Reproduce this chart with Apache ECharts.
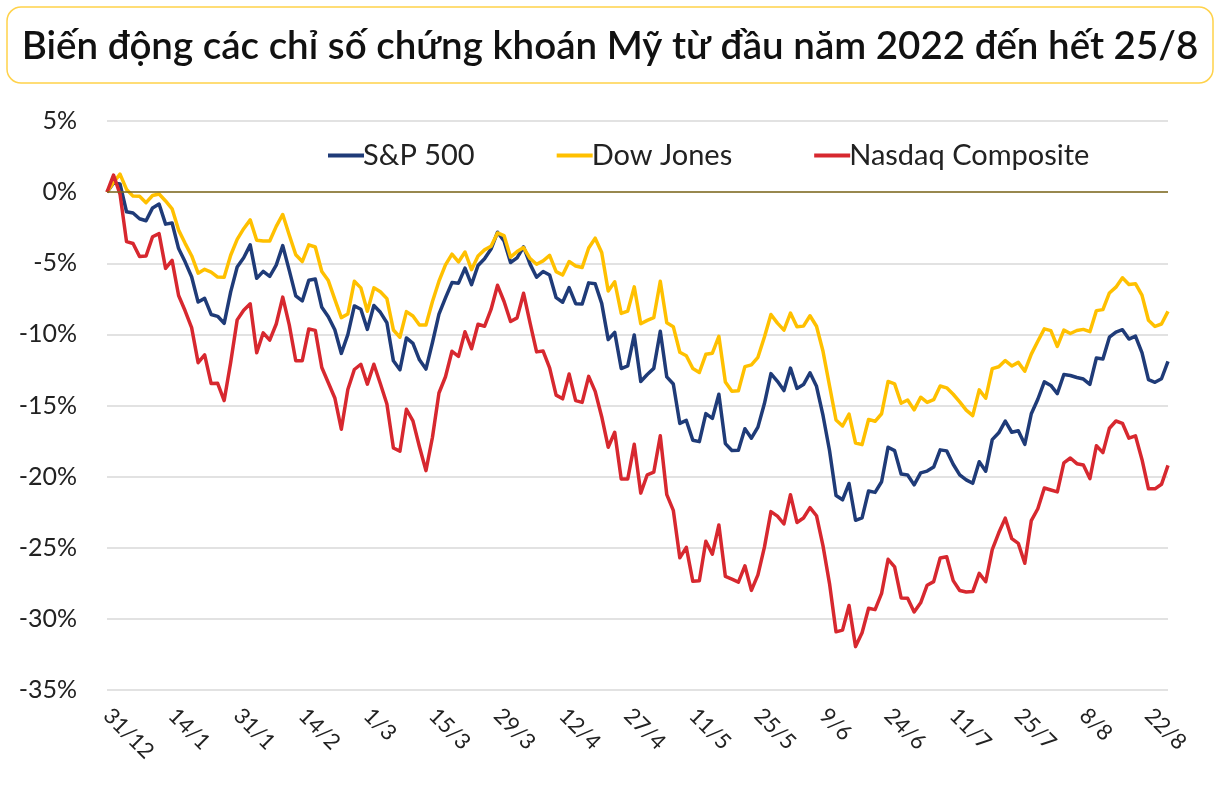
<!DOCTYPE html>
<html>
<head>
<meta charset="utf-8">
<script src="https://cdn.jsdelivr.net/npm/echarts@6/dist/echarts.min.js"></script>
<style>
html,body{margin:0;padding:0;background:#fff;}
#chart{width:1220px;height:789px;}
</style>
</head>
<body>
<div id="chart"></div>
<script>
var titleText = 'Biến động các chỉ số chứng khoán Mỹ từ đầu năm 2022 đến hết 25/8';
var seriesNames = ['S&P 500', 'Dow Jones', 'Nasdaq Composite'];

var categories = [
  '31/12',
  '3/1','4/1','5/1','6/1','7/1','10/1','11/1','12/1','13/1','14/1','18/1','19/1','20/1','21/1','24/1','25/1','26/1','27/1','28/1','31/1',
  '1/2','2/2','3/2','4/2','7/2','8/2','9/2','10/2','11/2','14/2','15/2','16/2','17/2','18/2','22/2','23/2','24/2','25/2','28/2',
  '1/3','2/3','3/3','4/3','7/3','8/3','9/3','10/3','11/3','14/3','15/3','16/3','17/3','18/3','21/3','22/3','23/3','24/3','25/3','28/3','29/3','30/3','31/3',
  '1/4','4/4','5/4','6/4','7/4','8/4','11/4','12/4','13/4','14/4','18/4','19/4','20/4','21/4','22/4','25/4','26/4','27/4','28/4','29/4',
  '2/5','3/5','4/5','5/5','6/5','9/5','10/5','11/5','12/5','13/5','16/5','17/5','18/5','19/5','20/5','23/5','24/5','25/5','26/5','27/5','31/5',
  '1/6','2/6','3/6','6/6','7/6','8/6','9/6','10/6','13/6','14/6','15/6','16/6','17/6','21/6','22/6','23/6','24/6','27/6','28/6','29/6','30/6',
  '1/7','5/7','6/7','7/7','8/7','11/7','12/7','13/7','14/7','15/7','18/7','19/7','20/7','21/7','22/7','25/7','26/7','27/7','28/7','29/7',
  '1/8','2/8','3/8','4/8','5/8','8/8','9/8','10/8','11/8','12/8','15/8','16/8','17/8','18/8','19/8','22/8','23/8','24/8','25/8'
];

var sp500 = [
  0, 0.64, 0.57, -1.38, -1.47, -1.87, -2.01, -1.11, -0.84, -2.25,
  -2.17, -3.97, -4.90, -5.95, -7.73, -7.47, -8.60, -8.73, -9.22, -7.01,
  -5.26, -4.61, -3.71, -6.06, -5.57, -5.92, -5.13, -3.76, -5.50, -7.29,
  -7.65, -6.19, -6.11, -8.10, -8.76, -9.68, -11.34, -10.02, -8.00, -8.23,
  -9.65, -7.97, -8.45, -9.18, -11.86, -12.49, -10.25, -10.63, -11.79, -12.44,
  -10.57, -8.57, -7.44, -6.36, -6.40, -5.34, -6.50, -5.16, -4.68, -4.00,
  -2.82, -3.44, -4.95, -4.62, -3.85, -5.06, -5.98, -5.58, -5.83, -7.42,
  -7.74, -6.71, -7.84, -7.86, -6.38, -6.44, -7.82, -10.37, -9.86, -12.40,
  -12.22, -10.04, -13.31, -12.82, -12.39, -9.78, -12.99, -13.49, -16.26, -16.05,
  -17.44, -17.54, -15.57, -15.91, -14.21, -17.68, -18.16, -18.14, -16.63, -17.30,
  -16.52, -14.86, -12.76, -13.30, -13.95, -12.37, -13.80, -13.53, -12.70, -13.65,
  -15.70, -18.16, -21.33, -21.63, -20.48, -23.07, -22.90, -21.01, -21.11, -20.36,
  -17.93, -18.17, -19.82, -19.88, -20.58, -19.74, -19.61, -19.33, -18.12, -18.19,
  -19.13, -19.88, -20.23, -20.47, -18.95, -19.62, -17.40, -16.92, -16.10, -16.88,
  -16.77, -17.73, -15.58, -14.56, -13.34, -13.59, -14.16, -12.82, -12.89, -13.03,
  -13.14, -13.51, -11.66, -11.73, -10.20, -9.84, -9.67, -10.33, -10.12, -11.28,
  -13.18, -13.37, -13.12, -11.90
];

var dowJones = [
  0, 0.68, 1.27, 0.19, -0.28, -0.29, -0.74, -0.24, -0.13, -0.62,
  -1.17, -2.67, -3.60, -4.47, -5.70, -5.43, -5.62, -5.97, -5.99, -4.44,
  -3.32, -2.57, -1.95, -3.38, -3.44, -3.43, -2.41, -1.57, -3.02, -4.40,
  -4.88, -3.71, -3.86, -5.58, -6.22, -7.54, -8.82, -8.57, -6.27, -6.73,
  -8.38, -6.73, -7.00, -7.49, -9.69, -10.20, -8.40, -8.71, -9.34, -9.34,
  -7.69, -6.26, -5.11, -4.36, -4.91, -4.21, -5.45, -4.49, -4.06, -3.80,
  -2.87, -3.05, -4.57, -4.18, -3.90, -4.67, -5.07, -4.83, -4.45, -5.59,
  -5.83, -4.88, -5.19, -5.30, -3.93, -3.24, -4.25, -6.95, -6.30, -8.53,
  -8.36, -6.66, -9.25, -9.02, -8.83, -6.27, -9.19, -9.46, -11.26, -11.50,
  -12.40, -12.68, -11.40, -11.32, -10.14, -13.34, -13.99, -13.97, -12.27, -12.14,
  -11.61, -10.19, -8.60, -9.21, -9.70, -8.50, -9.46, -9.42, -8.69, -9.43,
  -11.19, -13.61, -16.02, -16.44, -15.60, -17.64, -17.75, -15.98, -16.11, -15.58,
  -13.31, -13.48, -14.84, -14.61, -15.31, -14.42, -14.78, -14.59, -13.63, -13.76,
  -14.21, -14.74, -15.32, -15.71, -13.90, -14.49, -12.41, -12.28, -11.84, -12.22,
  -11.97, -12.59, -11.39, -10.48, -9.61, -9.74, -10.85, -9.70, -9.94, -9.73,
  -9.65, -9.81, -8.33, -8.26, -7.09, -6.68, -6.02, -6.49, -6.44, -7.24,
  -9.01, -9.44, -9.27, -8.38
];

var nasdaq = [
  0, 1.20, -0.14, -3.48, -3.61, -4.53, -4.49, -3.14, -2.92, -5.36,
  -4.80, -7.27, -8.34, -9.53, -11.99, -11.44, -13.46, -13.44, -14.65, -11.98,
  -8.98, -8.30, -7.85, -11.29, -9.89, -10.41, -9.27, -7.38, -9.33, -11.85,
  -11.85, -9.62, -9.72, -12.33, -13.40, -14.47, -16.67, -13.88, -12.47, -12.10,
  -13.50, -12.10, -13.47, -14.90, -17.99, -18.21, -15.27, -16.08, -17.90, -19.58,
  -17.23, -14.12, -12.98, -11.19, -11.55, -9.82, -11.01, -9.29, -9.43, -8.25,
  -6.55, -7.69, -9.10, -8.84, -7.11, -9.21, -11.23, -11.17, -12.36, -14.27,
  -14.53, -12.79, -14.66, -14.78, -12.95, -14.01, -15.79, -17.93, -16.88, -20.16,
  -20.17, -17.73, -21.16, -19.87, -19.69, -17.13, -21.27, -22.37, -25.71, -24.97,
  -27.36, -27.32, -24.54, -25.45, -23.40, -27.02, -27.21, -27.42, -26.27, -28.00,
  -26.91, -24.96, -22.46, -22.78, -23.33, -21.27, -23.22, -22.91, -22.18, -22.75,
  -24.87, -27.52, -30.91, -30.79, -29.06, -31.95, -30.98, -29.25, -29.35, -28.21,
  -25.81, -26.34, -28.53, -28.55, -29.51, -28.87, -27.63, -27.38, -25.72, -25.63,
  -27.31, -28.00, -28.11, -28.08, -26.80, -27.39, -25.13, -23.95, -22.92, -24.36,
  -24.69, -26.09, -23.09, -22.26, -20.80, -20.94, -21.07, -19.03, -18.69, -19.09,
  -19.18, -20.14, -17.83, -18.31, -16.60, -16.09, -16.25, -17.30, -17.13, -18.79,
  -20.86, -20.86, -20.54, -19.21
];

var colors = ['#1F3B78', '#FFC000', '#D7282F'];
var FONT = 'Lato, "Noto Sans", sans-serif';

var chart = echarts.init(document.getElementById('chart'), null, {renderer: 'canvas'});

function lineSeries(name, data, color, extra) {
  var s = {
    name: name,
    type: 'line',
    data: data,
    showSymbol: false,
    symbol: 'none',
    lineStyle: {color: color, width: 3.5, join: 'round'},
    itemStyle: {color: color},
    animation: false
  };
  if (extra) { for (var k in extra) s[k] = extra[k]; }
  return s;
}

chart.setOption({
  animation: false,
  backgroundColor: '#ffffff',
  graphic: [{
    type: 'rect',
    shape: {x: 7, y: 7, width: 1206, height: 76, r: 14},
    style: {fill: '#ffffff', stroke: '#FFD24A', lineWidth: 1.5},
    z: 0
  }],
  title: {
    text: titleText,
    left: 'center',
    top: 22,
    textStyle: {fontFamily: FONT, fontSize: 38.5, fontWeight: 600, color: '#111111'}
  },
  legend: {
    data: seriesNames,
    left: 323,
    top: 136,
    itemGap: 82,
    itemWidth: 36,
    itemHeight: 4,
    icon: 'rect',
    textStyle: {fontFamily: FONT, fontSize: 29, color: '#222222', padding: [0, 0, 0, -6]}
  },
  grid: {left: 107, right: 52, top: 121, bottom: 99, containLabel: false},
  xAxis: {
    type: 'category',
    data: categories,
    boundaryGap: false,
    axisLine: {show: false, onZero: false},
    axisTick: {show: false},
    splitLine: {show: false},
    axisLabel: {
      interval: 9,
      rotate: -45,
      margin: 22,
      fontFamily: FONT,
      fontSize: 22,
      color: '#222222'
    }
  },
  yAxis: {
    type: 'value',
    min: -35,
    max: 5,
    interval: 5,
    axisLine: {show: false},
    axisTick: {show: false},
    splitLine: {lineStyle: {color: '#D9D9D9', width: 1.5}},
    axisLabel: {
      formatter: '{value}%',
      margin: 30,
      fontFamily: FONT,
      fontSize: 25,
      color: '#222222'
    }
  },
  series: [
    lineSeries(seriesNames[0], sp500, colors[0], {
      markLine: {
        silent: true,
        symbol: 'none',
        label: {show: false},
        lineStyle: {color: '#7F6A1E', width: 1.5, type: 'solid'},
        data: [{yAxis: 0}],
        animation: false
      }
    }),
    lineSeries(seriesNames[1], dowJones, colors[1]),
    lineSeries(seriesNames[2], nasdaq, colors[2])
  ]
});
</script>
</body>
</html>
